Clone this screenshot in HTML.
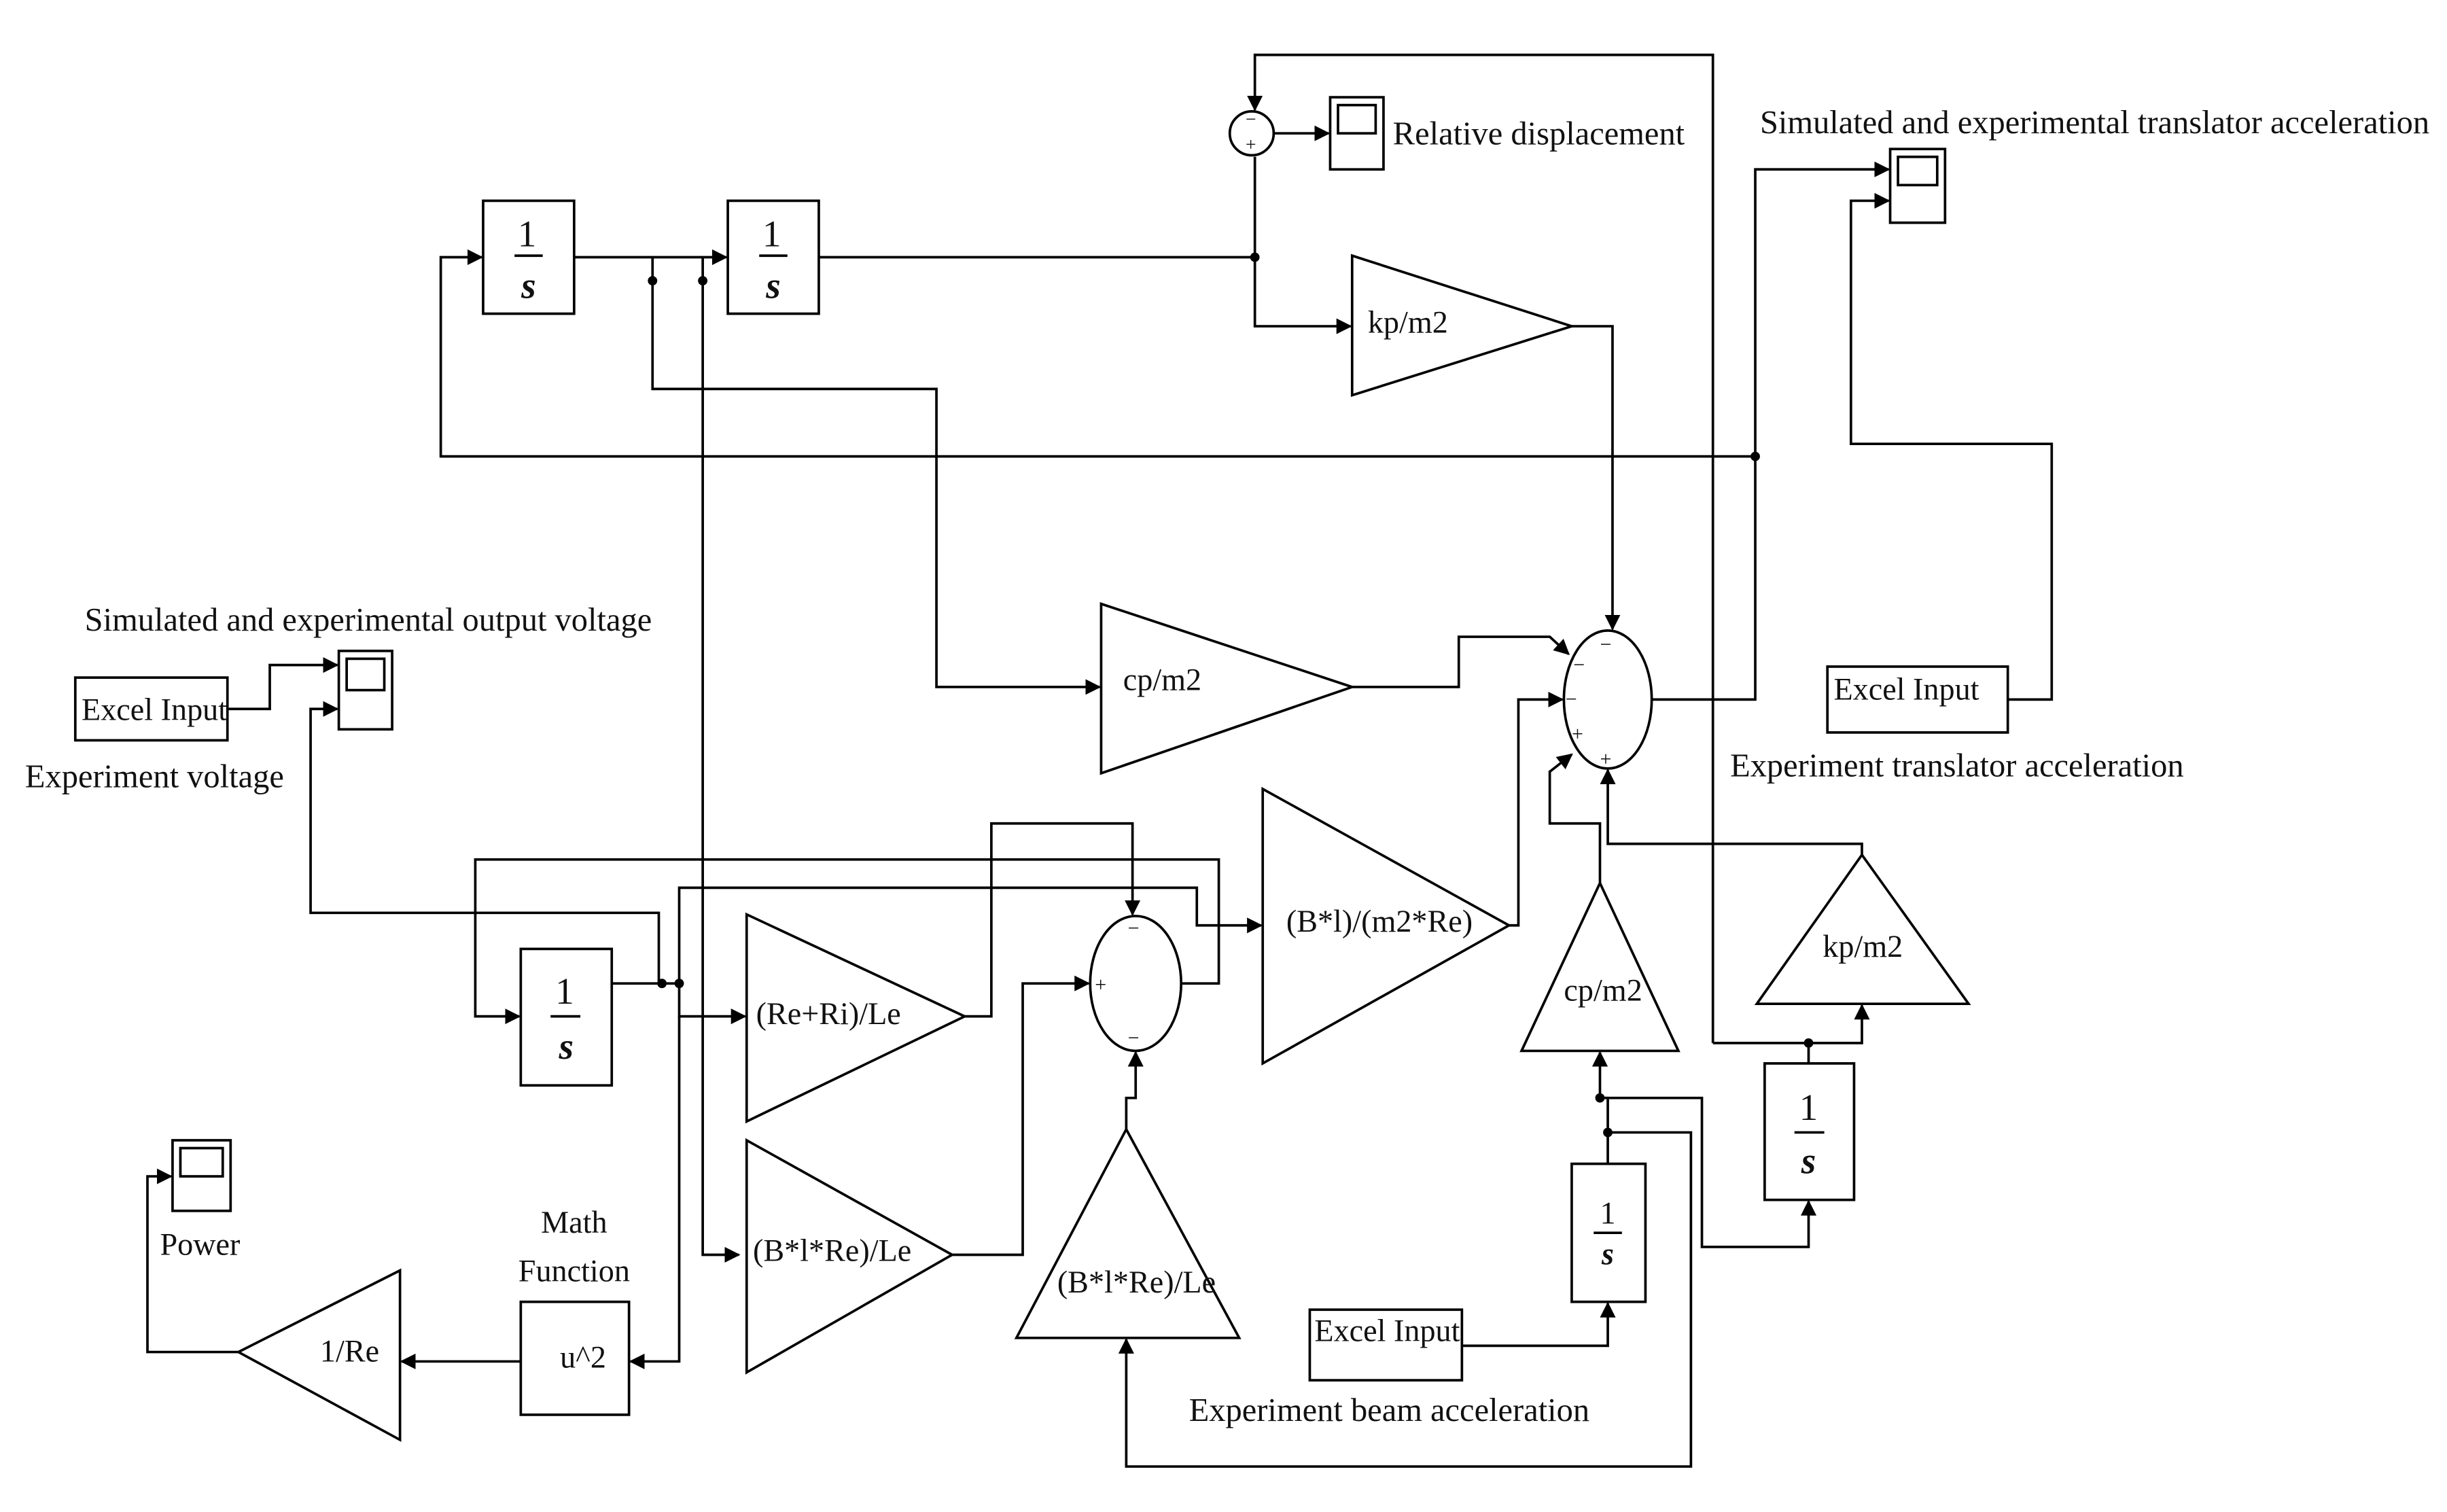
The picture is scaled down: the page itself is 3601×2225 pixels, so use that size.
<!DOCTYPE html>
<html><head><meta charset="utf-8"><style>
html,body{margin:0;padding:0;background:#fff;}
svg{display:block;}
text{font-family:"Liberation Serif",serif;fill:#111;}
</style></head><body>
<svg width="3601" height="2225" viewBox="0 0 1560 964" preserveAspectRatio="none" xmlns="http://www.w3.org/2000/svg">
<defs>
<marker id="a" markerWidth="10" markerHeight="10" refX="9" refY="5" orient="auto" markerUnits="userSpaceOnUse"><path d="M0,0 L10,5 L0,10 z" fill="#000"/></marker>
</defs>
<g fill="none" stroke="#000" stroke-width="1.6">
<!-- top sum -->
<circle cx="798" cy="85" r="14" fill="#fff"/>
<path d="M1092,665 L1092,35 L800,35 L800,70" marker-end="url(#a)"/>
<path d="M812,85 L847,85" marker-end="url(#a)"/>
<rect x="848" y="62" width="34" height="46"/>
<rect x="853" y="67" width="24" height="18"/>
<!-- integrators top -->
<rect x="308" y="128" width="58" height="72"/>
<rect x="464" y="128" width="58" height="72"/>
<path d="M522,164 L800,164"/>
<path d="M800,164 L800,100"/>
<path d="M800,164 L800,208 L861,208" marker-end="url(#a)"/>
<path d="M862,163 L862,252 L1002,208 Z"/>
<path d="M1002,208 L1028,208 L1028,401" marker-end="url(#a)"/>
<path d="M366,164 L448,164 L463,164" marker-end="url(#a)"/>
<path d="M416,164 L416,248 L597,248 L597,438 L701,438" marker-end="url(#a)"/>
<path d="M448,164 L448,800 L471,800" marker-end="url(#a)"/>
<path d="M1119,291 L281,291 L281,164 L307,164" marker-end="url(#a)"/>
<!-- big sum -->
<ellipse cx="1025" cy="446" rx="28" ry="44" fill="#fff"/>
<path d="M1053,446 L1119,446 L1119,108 L1204,108" marker-end="url(#a)"/>
<rect x="1205" y="95" width="35" height="47"/>
<rect x="1210" y="100" width="25" height="18"/>
<rect x="1165" y="425" width="115" height="42"/>
<path d="M1280,446 L1308,446 L1308,283 L1180,283 L1180,128 L1204,128" marker-end="url(#a)"/>
<path d="M702,385 L702,493 L862,438 Z"/>
<path d="M862,438 L930,438 L930,406 L988,406 L1000,417" marker-end="url(#a)"/>
<path d="M962,590 L968,590 L968,446 L996,446" marker-end="url(#a)"/>
<path d="M1020,563 L1020,525 L988,525 L988,492 L1002,481" marker-end="url(#a)"/>
<path d="M1187,545 L1187,538 L1025,538 L1025,491" marker-end="url(#a)"/>
<!-- left -->
<rect x="48" y="432" width="97" height="40"/>
<path d="M145,452 L172,452 L172,424 L215,424" marker-end="url(#a)"/>
<rect x="216" y="415" width="34" height="50"/>
<rect x="221" y="420" width="24" height="20"/>
<path d="M420,627 L420,582 L198,582 L198,452 L215,452" marker-end="url(#a)"/>
<rect x="332" y="605" width="58" height="87"/>
<path d="M390,627 L433,627"/>
<path d="M750,627 L777,627 L777,548 L303,548 L303,648 L331,648" marker-end="url(#a)"/>
<path d="M433,627 L433,566 L763,566 L763,590 L804,590" marker-end="url(#a)"/>
<path d="M433,627 L433,648 L475,648" marker-end="url(#a)"/>
<path d="M433,648 L433,868 L402,868" marker-end="url(#a)"/>
<path d="M476,583 L476,715 L615,648 Z"/>
<path d="M615,648 L632,648 L632,525 L722,525 L722,583" marker-end="url(#a)"/>
<ellipse cx="724" cy="627" rx="29" ry="43" fill="#fff"/>
<path d="M476,727 L476,875 L607,800 Z"/>
<path d="M607,800 L652,800 L652,627 L694,627" marker-end="url(#a)"/>
<path d="M718,720 L648,853 L790,853 Z"/>
<path d="M718,720 L718,700 L724,700 L724,671" marker-end="url(#a)"/>
<path d="M805,503 L805,678 L962,590 Z"/>
<!-- math -->
<rect x="332" y="830" width="69" height="72"/>
<path d="M332,868 L256,868" marker-end="url(#a)"/>
<path d="M255,810 L255,918 L152,862 Z"/>
<path d="M152,862 L94,862 L94,750 L109,750" marker-end="url(#a)"/>
<rect x="110" y="727" width="37" height="45"/>
<rect x="115" y="732" width="27" height="18"/>
<!-- bottom right -->
<path d="M970,670 L1070,670 L1020,563 Z"/>
<path d="M1120,640 L1255,640 L1187,545 Z"/>
<rect x="1002" y="742" width="47" height="88"/>
<rect x="1125" y="678" width="57" height="87"/>
<path d="M1025,742 L1025,700 L1020,700 L1020,671" marker-end="url(#a)"/>
<path d="M1025,722 L1078,722 L1078,935 L718,935 L718,854" marker-end="url(#a)"/>
<path d="M1020,700 L1085,700 L1085,795 L1153,795 L1153,766" marker-end="url(#a)"/>
<path d="M1153,678 L1153,665 L1187,665 L1187,641" marker-end="url(#a)"/>
<path d="M1153,665 L1092,665"/>
<rect x="835" y="835" width="97" height="45"/>
<path d="M932,858 L1025,858 L1025,831" marker-end="url(#a)"/>
<!-- fraction lines -->
<path d="M328,163 L346,163 M484,163 L502,163 M351,648 L370,648 M1016,786 L1034,786 M1144,722 L1163,722"/>
</g>
<g fill="#000">
<circle cx="800" cy="164" r="3"/><circle cx="416" cy="179" r="3"/><circle cx="448" cy="179" r="3"/>
<circle cx="1119" cy="291" r="3"/><circle cx="422" cy="627" r="3"/><circle cx="433" cy="627" r="3"/>
<circle cx="1025" cy="722" r="3"/><circle cx="1020" cy="700" r="3"/><circle cx="1153" cy="665" r="3"/>
</g>
<g font-size="20">
<text x="336" y="157" text-anchor="middle" font-size="24">1</text><text x="337" y="190" text-anchor="middle" font-size="24" font-style="italic" font-weight="bold">s</text>
<text x="492" y="157" text-anchor="middle" font-size="24">1</text><text x="493" y="190" text-anchor="middle" font-size="24" font-style="italic" font-weight="bold">s</text>
<text x="360" y="640" text-anchor="middle" font-size="24">1</text><text x="361" y="675" text-anchor="middle" font-size="24" font-style="italic" font-weight="bold">s</text>
<text x="1025" y="780" text-anchor="middle" font-size="20">1</text><text x="1025" y="806" text-anchor="middle" font-size="20" font-style="italic" font-weight="bold">s</text>
<text x="1153" y="714" text-anchor="middle" font-size="24">1</text><text x="1153" y="748" text-anchor="middle" font-size="24" font-style="italic" font-weight="bold">s</text>
<text x="888" y="92" font-size="21">Relative displacement</text>
<text x="1122" y="85" font-size="21">Simulated and experimental translator acceleration</text>
<text x="872" y="212">kp/m2</text>
<text x="716" y="440">cp/m2</text>
<text x="1169" y="446">Excel Input</text>
<text x="1103" y="495" font-size="21">Experiment translator acceleration</text>
<text x="54" y="402" font-size="21">Simulated and experimental output voltage</text>
<text x="52" y="459">Excel Input</text>
<text x="16" y="502" font-size="21">Experiment voltage</text>
<text x="482" y="653">(Re+Ri)/Le</text>
<text x="480" y="804">(B*l*Re)/Le</text>
<text x="674" y="824">(B*l*Re)/Le</text>
<text x="820" y="594">(B*l)/(m2*Re)</text>
<text x="997" y="638">cp/m2</text>
<text x="1162" y="610">kp/m2</text>
<text x="838" y="855">Excel Input</text>
<text x="758" y="906" font-size="21">Experiment beam acceleration</text>
<text x="366" y="786" text-anchor="middle">Math</text>
<text x="366" y="817" text-anchor="middle">Function</text>
<text x="357" y="872">u^2</text>
<text x="204" y="868">1/Re</text>
<text x="102" y="800">Power</text>
<text x="794" y="80" font-size="12">−</text><text x="794" y="96" font-size="12">+</text>
<text x="1020" y="415" font-size="13">−</text><text x="1003" y="428" font-size="13">−</text><text x="998" y="450" font-size="13">−</text><text x="1002" y="472" font-size="13">+</text><text x="1020" y="488" font-size="13">+</text>
<text x="719" y="596" font-size="13">−</text><text x="698" y="632" font-size="13">+</text><text x="719" y="666" font-size="13">−</text>
</g>
</svg>
</body></html>
